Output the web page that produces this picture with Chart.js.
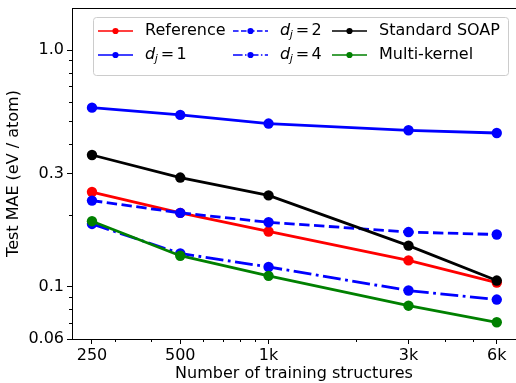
<!DOCTYPE html>
<html>
<head>
<meta charset="utf-8">
<script src="https://cdn.jsdelivr.net/npm/chart.js@4.4.0/dist/chart.umd.min.js"></script>
<style>
    html, body { margin: 0; padding: 0; background: #fff; overflow: hidden; }
    canvas { display: block; }
</style>
</head>
<body>
<canvas id="canvas" width="516" height="383"></canvas>
<script>
// training set sizes (x) and test MAE values
const sizes = [250, 500, 1000, 3000, 6000];
const reference = [0.251, 0.205, 0.171, 0.129, 0.104];
const dj1 = [0.571, 0.532, 0.489, 0.458, 0.446];
const dj2 = [0.231, 0.205, 0.187, 0.170, 0.166];
const dj4 = [0.184, 0.138, 0.121, 0.0962, 0.0881];
const soap = [0.360, 0.289, 0.243, 0.149, 0.106];
const multi = [0.189, 0.135, 0.111, 0.083, 0.0706];

const seriesNames = ['Reference', 'd_j = 1', 'd_j = 2', 'd_j = 4', 'Standard SOAP', 'Multi-kernel'];

const xTicks = [250, 500, 1000, 3000, 6000];
const xTickLabels = ['250', '500', '1k', '3k', '6k'];
const xMinor = [300, 400, 600, 700, 800, 900, 2000, 4000, 5000];
const yTicks = [0.06, 0.1, 0.3, 1.0];
const yTickLabels = ['0.06', '0.1', '0.3', '1.0'];
const yMinor = [0.07, 0.08, 0.09, 0.2, 0.4, 0.5, 0.6, 0.7, 0.8, 0.9];

const FONT = 'DejaVu Sans';
Chart.defaults.font.family = FONT;
Chart.defaults.font.size = 16;
Chart.defaults.color = '#000';

function pts(vals) {
    return sizes.map((s, i) => ({x: s, y: vals[i]}));
}

const LW = 2.8;
function makeSet(i, vals, color, dash) {
    return {
        label: seriesNames[i],
        data: pts(vals),
        borderColor: color,
        backgroundColor: color,
        pointBackgroundColor: color,
        pointBorderWidth: 0,
        pointRadius: 5.2,
        borderWidth: LW,
        borderDash: dash,
        order: 10 - i, // later series drawn on top like matplotlib
        tension: 0
    };
}

// legend with 3 columns x 2 rows, drawn by hand (matplotlib style)
function drawLabel(ctx, text, x, y) {
    ctx.textBaseline = 'middle';
    ctx.textAlign = 'left';
    if (text.startsWith('d_j')) {
        ctx.font = 'italic 16px ' + FONT;
        ctx.fillText('d', x, y);
        x += ctx.measureText('d').width;
        ctx.font = 'italic 11px ' + FONT;
        ctx.fillText('j', x - 0.5, y + 4);
        x += ctx.measureText('j').width + 2.5;
        ctx.font = '16px ' + FONT;
        ctx.fillText('=', x, y);
        x += ctx.measureText('=').width + 2.5;
        ctx.fillText(text.split('=')[1].trim(), x, y);
    } else {
        ctx.font = '16px ' + FONT;
        ctx.fillText(text, x, y);
    }
}

const extras = {
    id: 'extras',
    afterDraw(chart) {
        const ctx = chart.ctx, a = chart.chartArea;
        const xs = chart.scales.x, ys = chart.scales.y;
        ctx.save();
        ctx.strokeStyle = '#000';
        ctx.lineWidth = 1;
        ctx.beginPath();
        xMinor.forEach(v => {
            const px = Math.round(xs.getPixelForValue(v) - 0.5) + 0.5;
            ctx.moveTo(px, a.bottom);
            ctx.lineTo(px, a.bottom + 3);
        });
        yMinor.forEach(v => {
            const py = Math.round(ys.getPixelForValue(v) - 0.5) + 0.5;
            ctx.moveTo(a.left - 3, py);
            ctx.lineTo(a.left, py);
        });
        ctx.moveTo(a.left, a.top + 0.5);
        ctx.lineTo(a.right, a.top + 0.5);
        ctx.stroke();

        // legend box
        ctx.beginPath();
        ctx.roundRect(93.5, 17.5, 415, 58, 3);
        ctx.fillStyle = 'rgba(255,255,255,0.8)';
        ctx.fill();
        ctx.strokeStyle = '#cccccc';
        ctx.stroke();

        const colX = [98, 233, 332];
        const rowY = [31, 55];
        const legLW = 1.5;
        chart.data.datasets.forEach((ds, i) => {
            const x0 = colX[Math.floor(i / 2)], y0 = rowY[i % 2];
            ctx.strokeStyle = ds.borderColor;
            ctx.lineWidth = legLW;
            ctx.setLineDash(ds.borderDash.map(d => d * legLW / LW));
            ctx.beginPath();
            ctx.moveTo(x0, y0);
            ctx.lineTo(x0 + 35, y0);
            ctx.stroke();
            ctx.setLineDash([]);
            ctx.fillStyle = ds.borderColor;
            ctx.beginPath();
            ctx.arc(x0 + 17.5, y0, 3.1, 0, Math.PI * 2);
            ctx.fill();
            ctx.fillStyle = '#000';
            drawLabel(ctx, ds.label, x0 + 47, y0);
        });
        ctx.restore();
    }
};

const ctx = document.getElementById('canvas').getContext('2d');
const myChart = new Chart(ctx, {
    type: 'line',
    data: {
        datasets: [
            makeSet(0, reference, '#ff0000', []),
            makeSet(1, dj1, '#0000ff', []),
            makeSet(2, dj2, '#0000ff', [10.4, 4.5]),
            makeSet(3, dj4, '#0000ff', [17.9, 4.5, 2.8, 4.5]),
            makeSet(4, soap, '#000000', []),
            makeSet(5, multi, '#008000', [])
        ]
    },
    plugins: [extras],
    options: {
        responsive: false,
        animation: false,
        devicePixelRatio: 1,
        layout: {autoPadding: false, padding: {top: 8, right: 0, left: 0, bottom: 0}},
        plugins: {legend: {display: false}, tooltip: {enabled: false}},
        scales: {
            x: {
                type: 'logarithmic',
                min: 213.7,
                max: 6978,
                bounds: 'data',
                afterBuildTicks: s => { s.ticks = xTicks.map(v => ({value: v})); },
                afterFit: s => { s.height = 44; s.paddingLeft = 0; s.paddingRight = 0; },
                ticks: {
                    autoSkip: false,
                    maxRotation: 0,
                    padding: 2,
                    callback: v => xTickLabels[xTicks.indexOf(v)]
                },
                grid: {drawOnChartArea: false, tickLength: 5, tickColor: '#000'},
                border: {color: '#000', width: 1},
                title: {display: true, text: 'Number of training structures', padding: {top: 0, bottom: 0}}
            },
            y: {
                type: 'logarithmic',
                min: 0.06,
                max: 1.507,
                bounds: 'data',
                afterBuildTicks: s => { s.ticks = yTicks.map(v => ({value: v})); },
                afterFit: s => { s.width = 72; s.paddingTop = 0; s.paddingBottom = 0; },
                ticks: {
                    autoSkip: false,
                    padding: 3,
                    callback: v => yTickLabels[yTicks.indexOf(v)]
                },
                grid: {drawOnChartArea: false, tickLength: 5, tickColor: '#000'},
                border: {color: '#000', width: 1},
                title: {display: true, text: 'Test MAE (eV / atom)', padding: {top: 4, bottom: 0}}
            }
        }
    }
});
</script>
</body>
</html>
